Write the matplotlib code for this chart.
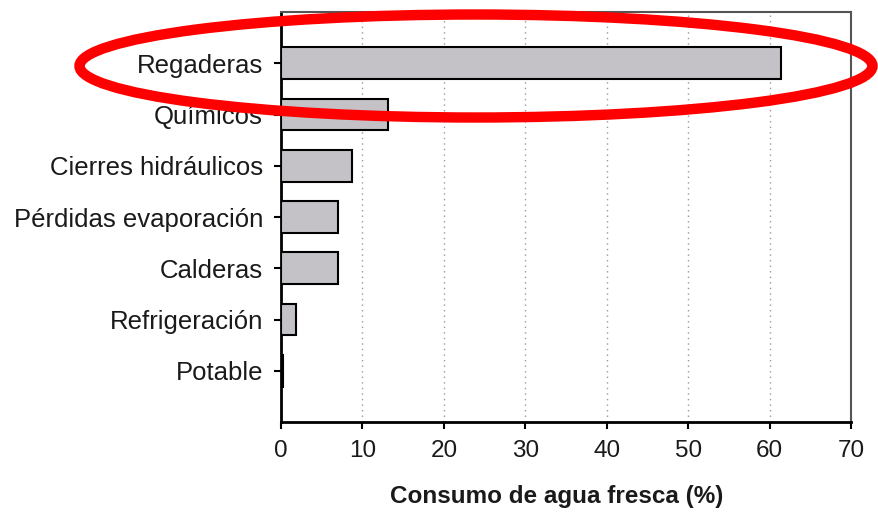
import matplotlib
matplotlib.use("Agg")
import matplotlib.pyplot as plt
from matplotlib.patches import Ellipse

categories = ["Potable", "Refrigeración", "Calderas", "Pérdidas evaporación",
              "Cierres hidráulicos", "Químicos", "Regaderas"]
values = [0.2, 1.8, 7.0, 7.0, 8.7, 13.2, 61.4]
xticks = [0, 10, 20, 30, 40, 50, 60, 70]

plt.rcParams['font.family'] = ['Liberation Sans', 'DejaVu Sans']

fig = plt.figure(figsize=(8.79, 5.16), dpi=100)
ax = fig.add_axes([281/879, 1-422/516, 570/879, 410/516])

ypos = list(range(len(categories)))
ax.barh(ypos, values, height=0.62, color="#c4c2c6", edgecolor="black", linewidth=1.5, zorder=3)
ax.set_xlim(0, 70)
ax.set_ylim(-1, 7)
ax.set_xticks(xticks)
ax.set_xticklabels([str(t) for t in xticks], fontsize=17.5, color="#1a1a1a")
ax.set_yticks(ypos)
ax.set_yticklabels(categories, fontsize=18.5, color="#1a1a1a")
ax.xaxis.grid(True, linestyle=(0, (1, 3)), color="#999999", linewidth=1)
ax.set_axisbelow(True)
for s in ["left", "bottom"]:
    ax.spines[s].set_linewidth(2)
for s in ["top", "right"]:
    ax.spines[s].set_linewidth(1.5)
    ax.spines[s].set_color("#555555")
ax.tick_params(axis='both', direction='out', length=5, width=1.5)
ax.tick_params(axis='x', pad=8)
ax.tick_params(axis='y', pad=8)
ax.set_xlabel("Consumo de agua fresca (%)", fontsize=17.5, fontweight='bold',
              color="#1a1a1a")
ax.xaxis.set_label_coords((557 - 281) / 570, -(497 - 422) / 410)
ax.xaxis.label.set_va('center')

ell = Ellipse((476/879, 1-66/516), 793/879, 103/516, transform=fig.transFigure,
              fill=False, edgecolor="#ff0000", linewidth=7.5, clip_on=False, zorder=10)
fig.patches.append(ell)

fig.savefig("out.png", dpi=100)
